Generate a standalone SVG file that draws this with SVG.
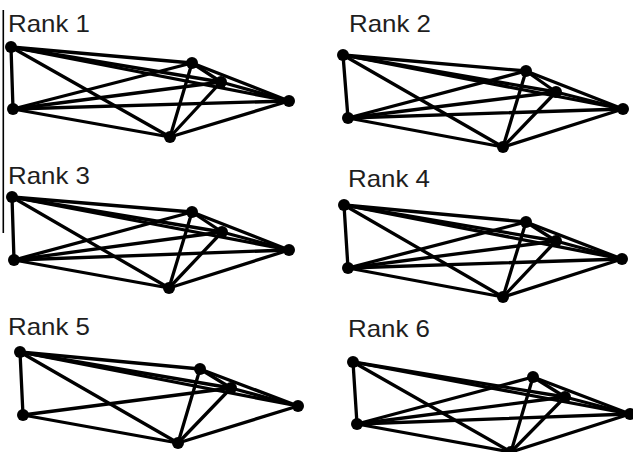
<svg xmlns="http://www.w3.org/2000/svg" width="633" height="452" viewBox="0 0 633 452">
<style>
.lbl{font-family:"Liberation Sans",Arial,sans-serif;font-size:24px;fill:#1e1e1e}
.e line{stroke:#000;stroke-width:3.3;stroke-linecap:round}
.n{fill:#000}
</style>
<rect width="633" height="452" fill="#fff"/>
<line x1="3.3" y1="10" x2="3.3" y2="233" stroke="#000" stroke-width="1.6"/>
<text class="lbl" x="8" y="32" textLength="82" lengthAdjust="spacingAndGlyphs">Rank 1</text>
<text class="lbl" x="349" y="32" textLength="82" lengthAdjust="spacingAndGlyphs">Rank 2</text>
<text class="lbl" x="8" y="184" textLength="82" lengthAdjust="spacingAndGlyphs">Rank 3</text>
<text class="lbl" x="348" y="187" textLength="82" lengthAdjust="spacingAndGlyphs">Rank 4</text>
<text class="lbl" x="8" y="335" textLength="82" lengthAdjust="spacingAndGlyphs">Rank 5</text>
<text class="lbl" x="348" y="337" textLength="82" lengthAdjust="spacingAndGlyphs">Rank 6</text>

<g id="connectors">
<g class="e" id="edges-rank1">
<line x1="11" y1="47" x2="13" y2="109"/><line x1="11" y1="47" x2="192" y2="63"/><line x1="11" y1="47" x2="221" y2="82"/><line x1="11" y1="47" x2="289" y2="101"/><line x1="11" y1="47" x2="170" y2="137"/>
<line x1="13" y1="109" x2="192" y2="63"/><line x1="13" y1="109" x2="221" y2="82"/><line x1="13" y1="109" x2="289" y2="101"/><line x1="13" y1="109" x2="170" y2="137"/>
<line x1="192" y1="63" x2="221" y2="82"/><line x1="192" y1="63" x2="289" y2="101"/><line x1="192" y1="63" x2="170" y2="137"/>
<line x1="221" y1="82" x2="289" y2="101"/><line x1="221" y1="82" x2="170" y2="137"/><line x1="289" y1="101" x2="170" y2="137"/>
</g>
<g class="e" id="edges-rank2">
<line x1="343" y1="55" x2="348" y2="118"/><line x1="343" y1="55" x2="526" y2="71"/><line x1="343" y1="55" x2="556" y2="92"/><line x1="343" y1="55" x2="623" y2="109"/><line x1="343" y1="55" x2="503" y2="147"/>
<line x1="348" y1="118" x2="526" y2="71"/><line x1="348" y1="118" x2="556" y2="92"/><line x1="348" y1="118" x2="623" y2="109"/><line x1="348" y1="118" x2="503" y2="147"/>
<line x1="526" y1="71" x2="556" y2="92"/><line x1="526" y1="71" x2="623" y2="109"/><line x1="526" y1="71" x2="503" y2="147"/>
<line x1="556" y1="92" x2="623" y2="109"/><line x1="556" y1="92" x2="503" y2="147"/><line x1="623" y1="109" x2="503" y2="147"/>
</g>
<g class="e" id="edges-rank3">
<line x1="12" y1="197" x2="14" y2="260"/><line x1="12" y1="197" x2="192" y2="212"/><line x1="12" y1="197" x2="222" y2="232"/><line x1="12" y1="197" x2="289" y2="250"/><line x1="12" y1="197" x2="169" y2="288"/>
<line x1="14" y1="260" x2="192" y2="212"/><line x1="14" y1="260" x2="222" y2="232"/><line x1="14" y1="260" x2="289" y2="250"/><line x1="14" y1="260" x2="169" y2="288"/>
<line x1="192" y1="212" x2="222" y2="232"/><line x1="192" y1="212" x2="289" y2="250"/><line x1="192" y1="212" x2="169" y2="288"/>
<line x1="222" y1="232" x2="289" y2="250"/><line x1="222" y1="232" x2="169" y2="288"/><line x1="289" y1="250" x2="169" y2="288"/>
</g>
<g class="e" id="edges-rank4">
<line x1="344" y1="205" x2="348" y2="268"/><line x1="344" y1="205" x2="526" y2="222"/><line x1="344" y1="205" x2="556" y2="241"/><line x1="344" y1="205" x2="622" y2="259"/><line x1="344" y1="205" x2="503" y2="297"/>
<line x1="348" y1="268" x2="526" y2="222"/><line x1="348" y1="268" x2="556" y2="241"/><line x1="348" y1="268" x2="622" y2="259"/><line x1="348" y1="268" x2="503" y2="297"/>
<line x1="526" y1="222" x2="556" y2="241"/><line x1="526" y1="222" x2="622" y2="259"/><line x1="526" y1="222" x2="503" y2="297"/>
<line x1="556" y1="241" x2="622" y2="259"/><line x1="556" y1="241" x2="503" y2="297"/><line x1="622" y1="259" x2="503" y2="297"/>
</g>
<g class="e" id="edges-rank5">
<line x1="20" y1="352" x2="23" y2="415"/><line x1="20" y1="352" x2="200" y2="369"/><line x1="20" y1="352" x2="231" y2="388"/><line x1="20" y1="352" x2="298" y2="406"/><line x1="20" y1="352" x2="178" y2="443"/>
<line x1="23" y1="415" x2="231" y2="388"/><line x1="23" y1="415" x2="178" y2="443"/>
<line x1="200" y1="369" x2="231" y2="388"/><line x1="200" y1="369" x2="298" y2="406"/><line x1="200" y1="369" x2="178" y2="443"/>
<line x1="231" y1="388" x2="298" y2="406"/><line x1="231" y1="388" x2="178" y2="443"/><line x1="298" y1="406" x2="178" y2="443"/>
</g>
<g class="e" id="edges-rank6">
<line x1="353" y1="362" x2="357" y2="424"/><line x1="353" y1="362" x2="565" y2="397"/><line x1="353" y1="362" x2="630" y2="414"/><line x1="353" y1="362" x2="511" y2="452"/>
<line x1="357" y1="424" x2="533" y2="377"/><line x1="357" y1="424" x2="565" y2="397"/><line x1="357" y1="424" x2="630" y2="414"/><line x1="357" y1="424" x2="511" y2="452"/>
<line x1="533" y1="377" x2="565" y2="397"/><line x1="533" y1="377" x2="630" y2="414"/><line x1="533" y1="377" x2="511" y2="452"/>
<line x1="565" y1="397" x2="630" y2="414"/><line x1="565" y1="397" x2="511" y2="452"/><line x1="630" y1="414" x2="511" y2="452"/>
</g>
</g>

<g id="r1-A"><circle class="n" cx="11" cy="47" r="6"/></g>
<g id="r1-B"><circle class="n" cx="13" cy="109" r="6"/></g>
<g id="r1-C"><circle class="n" cx="192" cy="63" r="6"/></g>
<g id="r1-D"><circle class="n" cx="221" cy="82" r="6"/></g>
<g id="r1-E"><circle class="n" cx="289" cy="101" r="6"/></g>
<g id="r1-F"><circle class="n" cx="170" cy="137" r="6"/></g>

<g id="r2-A"><circle class="n" cx="343" cy="55" r="6"/></g>
<g id="r2-B"><circle class="n" cx="348" cy="118" r="6"/></g>
<g id="r2-C"><circle class="n" cx="526" cy="71" r="6"/></g>
<g id="r2-D"><circle class="n" cx="556" cy="92" r="6"/></g>
<g id="r2-E"><circle class="n" cx="623" cy="109" r="6"/></g>
<g id="r2-F"><circle class="n" cx="503" cy="147" r="6"/></g>

<g id="r3-A"><circle class="n" cx="12" cy="197" r="6"/></g>
<g id="r3-B"><circle class="n" cx="14" cy="260" r="6"/></g>
<g id="r3-C"><circle class="n" cx="192" cy="212" r="6"/></g>
<g id="r3-D"><circle class="n" cx="222" cy="232" r="6"/></g>
<g id="r3-E"><circle class="n" cx="289" cy="250" r="6"/></g>
<g id="r3-F"><circle class="n" cx="169" cy="288" r="6"/></g>

<g id="r4-A"><circle class="n" cx="344" cy="205" r="6"/></g>
<g id="r4-B"><circle class="n" cx="348" cy="268" r="6"/></g>
<g id="r4-C"><circle class="n" cx="526" cy="222" r="6"/></g>
<g id="r4-D"><circle class="n" cx="556" cy="241" r="6"/></g>
<g id="r4-E"><circle class="n" cx="622" cy="259" r="6"/></g>
<g id="r4-F"><circle class="n" cx="503" cy="297" r="6"/></g>

<g id="r5-A"><circle class="n" cx="20" cy="352" r="6"/></g>
<g id="r5-B"><circle class="n" cx="23" cy="415" r="6"/></g>
<g id="r5-C"><circle class="n" cx="200" cy="369" r="6"/></g>
<g id="r5-D"><circle class="n" cx="231" cy="388" r="6"/></g>
<g id="r5-E"><circle class="n" cx="298" cy="406" r="6"/></g>
<g id="r5-F"><circle class="n" cx="178" cy="443" r="6"/></g>

<g id="r6-A"><circle class="n" cx="353" cy="362" r="6"/></g>
<g id="r6-B"><circle class="n" cx="357" cy="424" r="6"/></g>
<g id="r6-C"><circle class="n" cx="533" cy="377" r="6"/></g>
<g id="r6-D"><circle class="n" cx="565" cy="397" r="6"/></g>
<g id="r6-E"><circle class="n" cx="630" cy="414" r="6"/></g>
<g id="r6-F"><circle class="n" cx="511" cy="452" r="6"/></g>
</svg>
